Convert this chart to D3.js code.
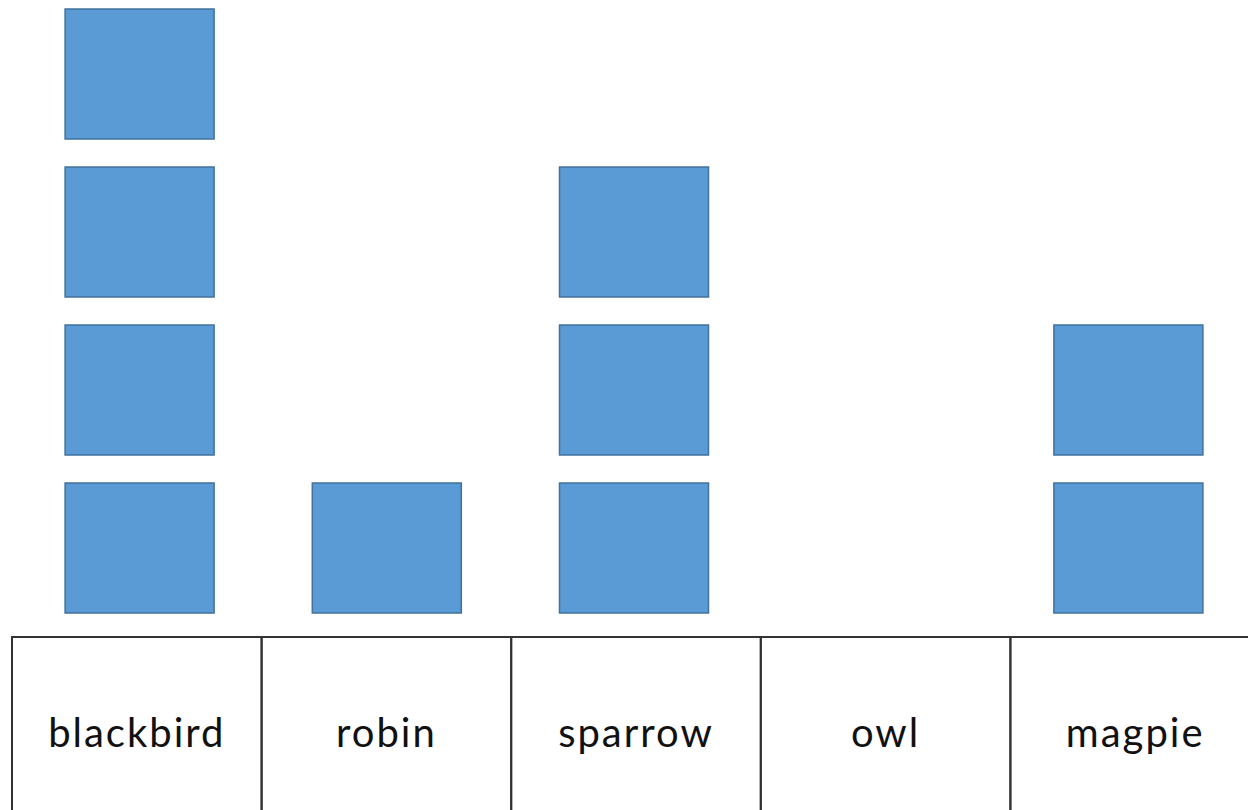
<!DOCTYPE html>
<html>
<head>
<meta charset="utf-8">
<script src="https://cdn.jsdelivr.net/npm/d3@7"></script>
<style>
  body { margin: 0; background: #fff; }
  svg { display: block; }
</style>
</head>
<body>
<svg></svg>
<script>
// birds seen - one block per bird
var birds = ["blackbird", "robin", "sparrow", "owl", "magpie"];
var counts = [4, 1, 3, 0, 2];

var width = 1248;
var height = 810;

var svg = d3.select("svg")
            .attr("width", width)
            .attr("height", height);

// table cells
var cellScale = d3.scaleBand()
               .domain(birds)
               .range([12, 1260]);

// block columns (sit roughly over the cells)
var xScale = d3.scaleBand()
               .domain(birds)
               .range([16, 1252]);

// block rows: bottom edge of each block
var yScale = d3.scaleLinear()
               .domain([0, 4])
               .range([613, -19]);

var blockW = 149;
var blockH = 130;

var blocks = [];
birds.forEach(function(b, i) {
  d3.range(counts[i]).forEach(function(k) {
    blocks.push({ bird: b, level: k });
  });
});

svg.selectAll("rect.block")
  .data(blocks)
  .enter()
  .append("rect")
    .attr("class", "block")
    .attr("x", d => xScale(d.bird) + xScale.bandwidth() / 2 - blockW / 2)
    .attr("y", d => yScale(d.level) - blockH)
    .attr("width", blockW)
    .attr("height", blockH)
    .attr("fill", "#5b9bd5")
    .attr("stroke", "#41719c")
    .attr("stroke-width", 1.5);

// label table
var tableTop = 637;

var cells = svg.selectAll("g.cell")
  .data(birds)
  .enter()
  .append("g")
    .attr("class", "cell");

cells.append("rect")
    .attr("x", d => cellScale(d))
    .attr("y", tableTop)
    .attr("width", cellScale.bandwidth())
    .attr("height", 200)
    .attr("fill", "none")
    .attr("stroke", "#333")
    .attr("stroke-width", 2);

cells.append("text")
    .attr("x", d => cellScale(d) + cellScale.bandwidth() / 2)
    .attr("y", 747)
    .attr("text-anchor", "middle")
    .style("font-family", "'Comic Sans MS', Lato, sans-serif")
    .style("font-size", "40px")
    .style("letter-spacing", "2px")
    .attr("fill", "#111")
    .text(d => d);
</script>
</body>
</html>
